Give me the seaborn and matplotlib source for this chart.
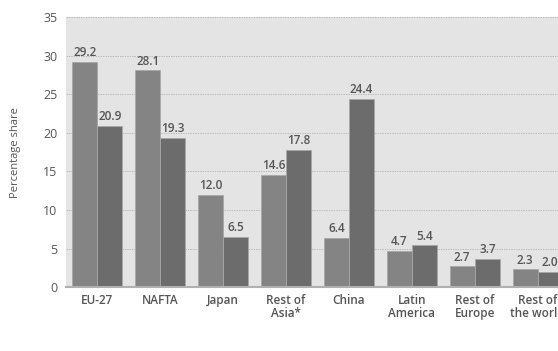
import matplotlib
matplotlib.use("Agg")
import matplotlib.pyplot as plt
import seaborn as sns
import pandas as pd

# data
regions = ["EU-27", "NAFTA", "Japan", "Rest of\nAsia*", "China",
           "Latin\nAmerica", "Rest of\nEurope", "Rest of\nthe world"]
share_first = [29.2, 28.1, 12.0, 14.6, 6.4, 4.7, 2.7, 2.3]
share_second = [20.9, 19.3, 6.5, 17.8, 24.4, 5.4, 3.7, 2.0]
series = ["First period", "Second period"]
y_ticks = [0, 5, 10, 15, 20, 25, 30, 35]

df = pd.DataFrame({
    "region": regions * 2,
    "share": share_first + share_second,
    "series": [series[0]] * len(regions) + [series[1]] * len(regions),
})

sns.set_style("white")
plt.rcParams["font.family"] = ["Open Sans", "DejaVu Sans"]
text_col = "#555555"

fig = plt.figure(figsize=(5.58, 3.51), dpi=100)
ax = fig.add_axes([0.118, 0.182, 0.902, 0.769])
ax.set_facecolor("#e4e4e4")

sns.barplot(data=df, x="region", y="share", hue="series",
            palette=["#848484", "#6c6c6c"], width=0.8, dodge=True,
            edgecolor="#a8a8a8", linewidth=0.6, legend=False, ax=ax, zorder=3)

for cont in ax.containers:
    ax.bar_label(cont, fmt="%.1f", padding=2, fontsize=8.5,
                 color=text_col, fontweight="semibold")

ax.set_ylim(0, 35)
ax.set_xlim(-0.5, 7.5)
ax.set_yticks(y_ticks)
ax.yaxis.grid(True, linestyle=(0, (2, 1.5)), color="#a8a8a8", linewidth=0.5, zorder=0)
ax.set_axisbelow(True)

for s in ["top", "right", "left"]:
    ax.spines[s].set_visible(False)
ax.spines["bottom"].set_color("#b0b0b0")
ax.spines["bottom"].set_linewidth(1.5)
ax.spines["bottom"].set_zorder(4)

ax.tick_params(axis="both", length=0, colors=text_col, labelsize=8.5)
ax.tick_params(axis="y", pad=6, labelsize=9)
ax.tick_params(axis="x", pad=5)
for lab in ax.get_xticklabels():
    lab.set_fontweight("semibold")
    lab.set_linespacing(0.95)

ax.set_xlabel("")
ax.set_ylabel("Percentage share", color=text_col, fontsize=8, labelpad=16)

fig.savefig("out.png", dpi=100)
